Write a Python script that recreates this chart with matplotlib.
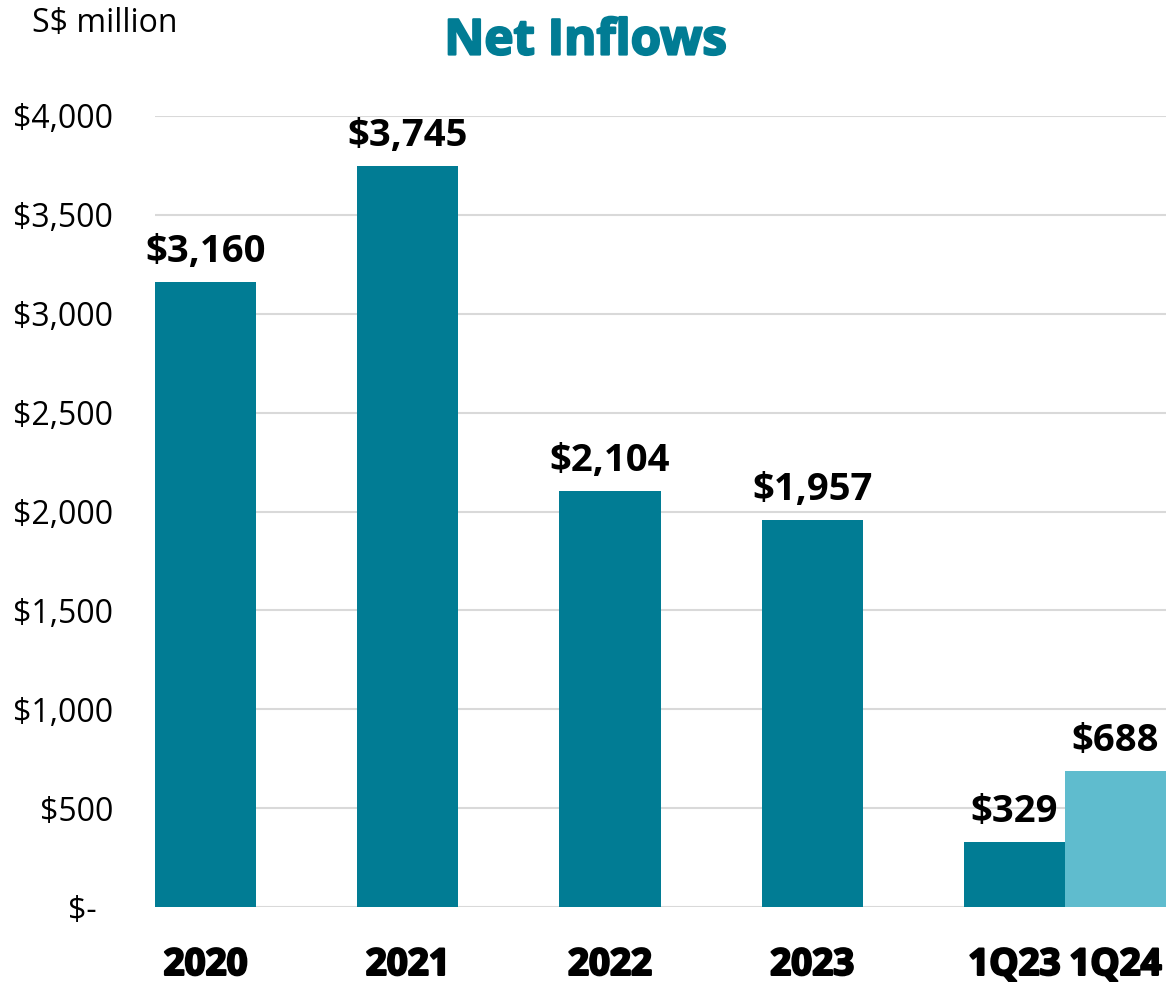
import matplotlib
matplotlib.use("Agg")
import matplotlib.pyplot as plt
import matplotlib.patheffects as pe
from matplotlib.ticker import FixedLocator, FixedFormatter

plt.rcParams['font.family'] = ['Open Sans', 'DejaVu Sans']

# Net inflows, S$ million
categories = ["2020", "2021", "2022", "2023", "1Q23", "1Q24"]
values = [3160, 3745, 2104, 1957, 329, 688]
positions = [0, 1, 2, 3, 4, 4.5]
bar_colors = ["#017C94", "#017C94", "#017C94", "#017C94", "#017C94", "#5FBCCE"]
value_labels = ["$3,160", "$3,745", "$2,104", "$1,957", "$329", "$688"]
y_ticks = [0, 500, 1000, 1500, 2000, 2500, 3000, 3500, 4000]
y_tick_labels = ["$-  ", "$500", "$1,000", "$1,500", "$2,000", "$2,500",
                 "$3,000", "$3,500", "$4,000"]

TEAL = "#017C94"

fig = plt.figure(figsize=(11.71, 9.82), dpi=100)
ax = fig.add_axes([155 / 1171, 75 / 982, 1011 / 1171, 791 / 982])

ax.bar(positions, values, width=0.5, color=bar_colors, zorder=3)

for x, v, lab in zip(positions, values, value_labels):
    ax.annotate(lab, (x, v), xytext=(0, 8), textcoords="offset points",
                ha="center", va="bottom", fontsize=27.5, fontweight="bold",
                color="black", zorder=4, annotation_clip=False)

ax.set_xlim(-0.25, 4.75)
ax.set_ylim(0, 4000)

ax.yaxis.set_major_locator(FixedLocator(y_ticks))
ax.yaxis.set_major_formatter(FixedFormatter(y_tick_labels))
ax.tick_params(axis="y", length=0, pad=30, labelsize=23, labelcolor="black")

ax.set_xticks(positions)
ax.set_xticklabels(categories, fontsize=26.5, fontweight="bold")
ax.tick_params(axis="x", length=0, pad=28)
# heavier strokes for the category labels
for t in ax.get_xticklabels():
    t.set_path_effects([pe.withStroke(linewidth=1.6, foreground="black")])

ax.grid(axis="y", color="#D9D9D9", linewidth=1.5, zorder=0)
ax.set_axisbelow(True)
for s in ax.spines.values():
    s.set_visible(False)

fig.text(585.5 / 1171, 1 - 42 / 982, "Net Inflows", ha="center", va="center",
         fontsize=35.5, fontweight="bold", color=TEAL,
         path_effects=[pe.withStroke(linewidth=1.6, foreground=TEAL)])
fig.text(32 / 1171, 1 - 24 / 982, "S$ million", ha="left", va="center",
         fontsize=23, color="black")

fig.savefig("out.png", dpi=100)
